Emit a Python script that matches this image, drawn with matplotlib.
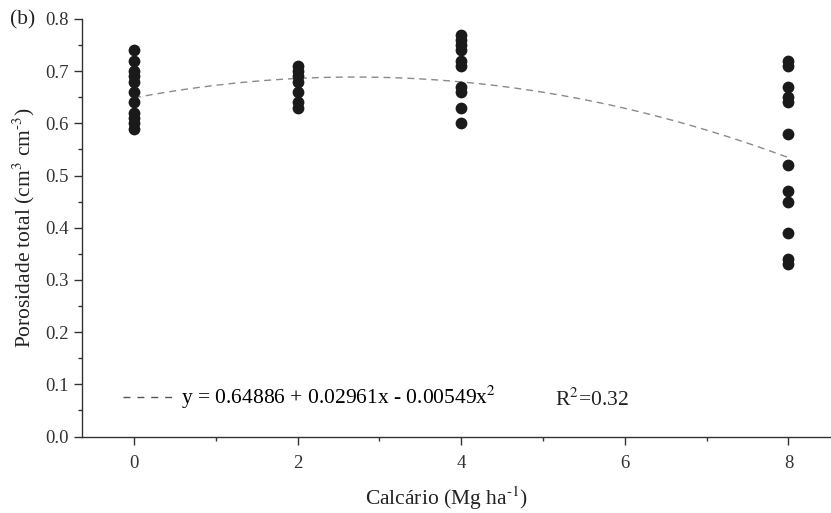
import numpy as np
import matplotlib
matplotlib.use("Agg")
import matplotlib.pyplot as plt

plt.rcParams['font.family'] = ['Liberation Serif', 'DejaVu Serif']
plt.rcParams['mathtext.fontset'] = 'stix'

# doses de calcário (Mg ha-1) e porosidade total observada
x0 = [0.74, 0.72, 0.70, 0.69, 0.68, 0.66, 0.64, 0.62, 0.61, 0.60, 0.59]
x2 = [0.71, 0.70, 0.69, 0.68, 0.66, 0.64, 0.63]
x4 = [0.77, 0.76, 0.75, 0.74, 0.72, 0.71, 0.67, 0.66, 0.63, 0.60]
x8 = [0.72, 0.71, 0.67, 0.65, 0.64, 0.58, 0.52, 0.47, 0.45, 0.39, 0.34, 0.33]
doses = [0, 2, 4, 8]
porosidade = [x0, x2, x4, x8]

# coeficientes da regressão quadrática
b0, b1, b2 = 0.64886, 0.02961, -0.00549
r2 = 0.32

fig = plt.figure(figsize=(8.31, 5.13), dpi=100)
ax = fig.add_axes([0.0987, 0.149, 0.9013, 0.814])

for d, vals in zip(doses, porosidade):
    ax.scatter([d] * len(vals), vals, s=72, color='#1a1a1a', zorder=3, linewidths=0)

xs = np.linspace(0, 8, 200)
ys = b0 + b1 * xs + b2 * xs ** 2
linha, = ax.plot(xs, ys, color='#8a8a8a', lw=1.0, dashes=(5, 3.6), zorder=2)

leg_line, = ax.plot([], [], color='#555555', lw=1.0, dashes=(5, 5))
ax.legend([leg_line], ['y = 0.64886 + 0.02961x - 0.00549x$^2$'],
          loc='lower left', bbox_to_anchor=(0.043, 0.04), frameon=False,
          handlelength=2.4, handletextpad=0.3, fontsize=15.5,
          borderaxespad=0)
ax.text(0.632, 0.088, 'R$^2$=%.2f' % r2, transform=ax.transAxes, fontsize=15.5,
        va='center', ha='left', color='#222222')

ax.set_xlim(-0.635, 8.52)
ax.set_ylim(0, 0.8)
ax.set_xticks([0, 2, 4, 6, 8])
ax.set_xticks([1, 3, 5, 7], minor=True)
ax.set_yticks(np.arange(0, 0.81, 0.1))
ax.set_yticks(np.arange(0.05, 0.8, 0.1), minor=True)
ax.set_yticklabels(['%.1f' % v for v in np.arange(0, 0.81, 0.1)])

for s in ['top', 'right']:
    ax.spines[s].set_visible(False)
for s in ['left', 'bottom']:
    ax.spines[s].set_color('#333333')
    ax.spines[s].set_linewidth(1.0)
ax.tick_params(which='major', direction='out', length=6, width=1.0,
               color='#333333', labelsize=13.5, labelcolor='#333333')
ax.tick_params(which='minor', direction='out', length=3, width=1.0, color='#333333')
ax.tick_params(axis='x', pad=7)

ax.set_xlabel('Calcário (Mg ha$^{\\text{-1}}$)', fontsize=15.5, labelpad=5, color='#222222')
ax.xaxis.set_label_coords(0.486, -0.115)
ax.set_ylabel('Porosidade total (cm$^{\\text{3}}$ cm$^{\\text{-3}}$)', fontsize=15.5,
              labelpad=6, color='#222222')
fig.text(0.012, 0.962, '(b)', fontsize=15.5, va='center', ha='left', color='#222222')

fig.savefig('out.png', dpi=100)
